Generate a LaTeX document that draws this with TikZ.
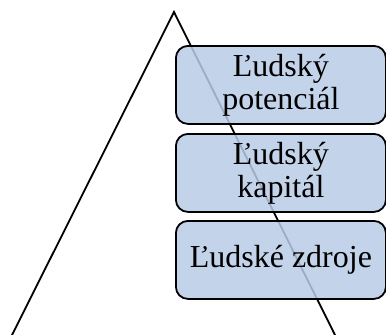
\documentclass[tikz,border=0pt]{standalone}
\usepackage{fontspec}
\setmainfont{Liberation Serif}
\begin{document}
\begin{tikzpicture}[x=1bp,y=-1bp,
  level/.style={draw=black, line width=1.8bp, rounded corners=12bp,
    fill={rgb,255:red,185;green,203;blue,229}, fill opacity=0.85, text opacity=1,
    minimum width=210bp, minimum height=78bp, anchor=north west, inner sep=0pt,
    align=center, font=\fontsize{32bp}{33bp}\selectfont},
  edge/.style={draw=black, line width=1.8bp}]
  \useasboundingbox (0,0) rectangle (386,335);
  % triangle outline
  \coordinate (apex) at (174,12);
  \coordinate (bl) at (12,335);
  \coordinate (br) at (335,335);
  \draw[edge] (bl) -- (apex) -- (br);
  % stacked levels
  \node[level] (pot) at (175,45) {Ľudský\\potenciál};
  \node[level] (kap) at (175,133) {Ľudský\\kapitál};
  \node[level] (zdr) at (175,220) {Ľudské zdroje};
\end{tikzpicture}
\end{document}
